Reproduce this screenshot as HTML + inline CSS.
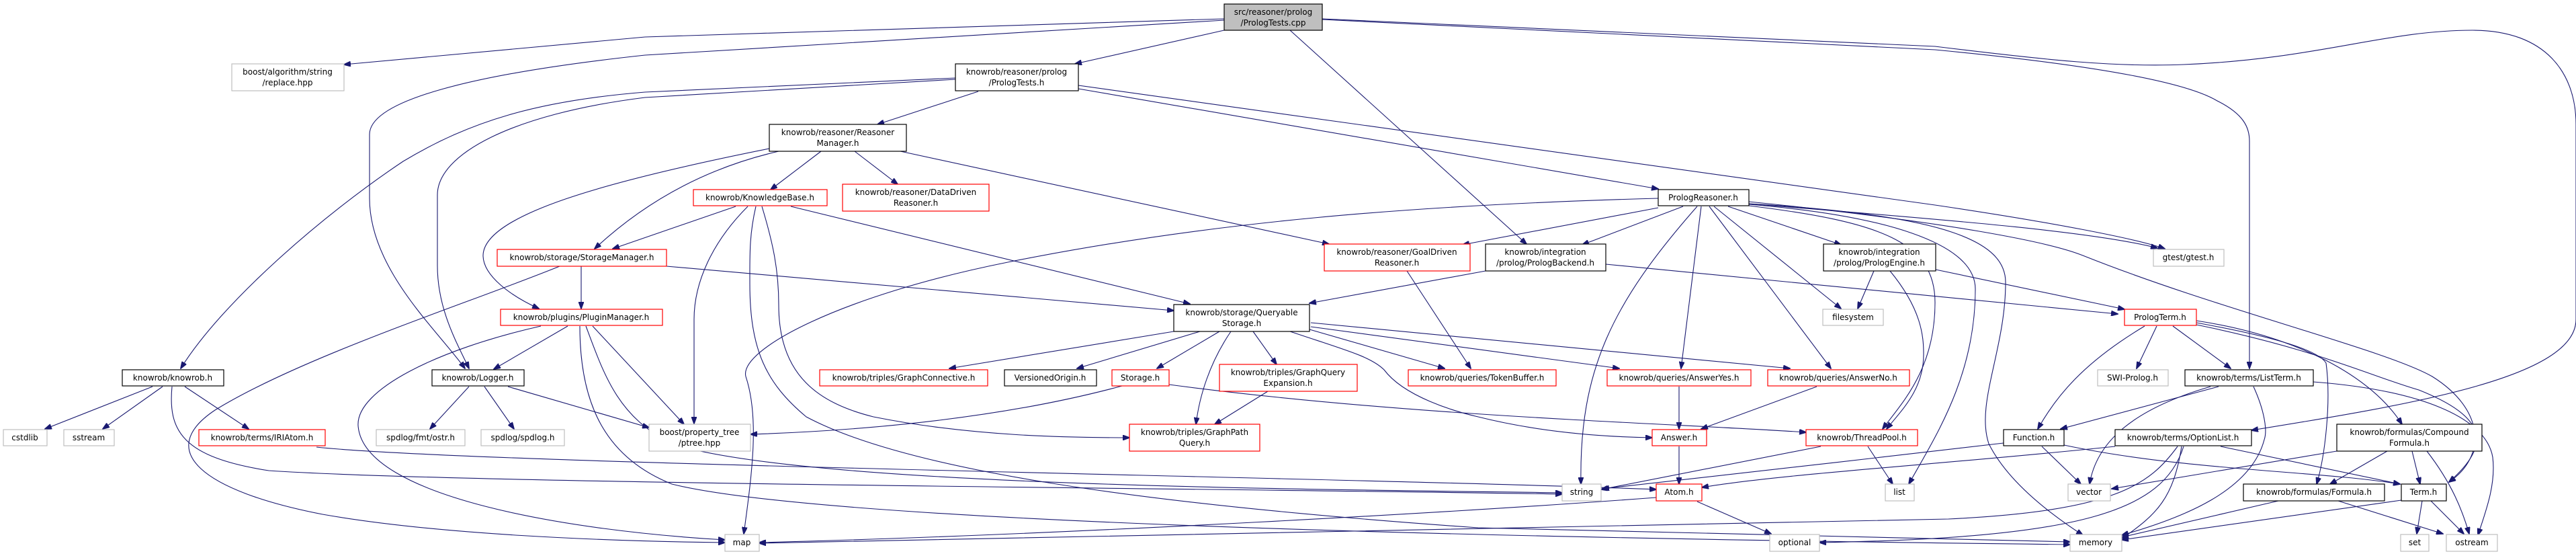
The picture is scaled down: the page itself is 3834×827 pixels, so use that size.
<!DOCTYPE html>
<html><head><meta charset="utf-8"><style>
html,body{margin:0;padding:0;background:#fff;}
svg{display:block;}
text{font-family:"DejaVu Sans","Liberation Sans",sans-serif;font-size:12px;fill:#000;text-anchor:middle;}
.e{fill:none;stroke:#191970;stroke-width:1.1;marker-end:url(#a);}
.b{fill:#fff;stroke:#000;stroke-width:1.2;}
.r{fill:#fff;stroke:#ff0000;stroke-width:1.2;}
.g{fill:#fff;stroke:#bfbfbf;stroke-width:1.2;}
.c{fill:#bfbfbf;stroke:#000;stroke-width:1.2;}
</style></head><body>
<svg width="3834" height="827" viewBox="0 0 3834 827" xmlns="http://www.w3.org/2000/svg">
<defs><marker id="a" markerUnits="userSpaceOnUse" markerWidth="11" markerHeight="8" refX="10" refY="4" orient="auto"><path d="M0,0 L11,4 L0,8 z" fill="#191970" stroke="#191970"/></marker></defs>
<g>
<path class="e" d="M1822,28 L960,55 L512,96"/>
<path class="e" d="M1822,30 L960,82 C700,110 550,150 550,200 L550,295 C550,400 650,490 692,548"/>
<path class="e" d="M1422,116 L960,137 C800,150 700,180 600,240 C480,320 330,450 269,548"/>
<path class="e" d="M1422,118 L960,145 C760,170 651,230 651,290 L651,395 C651,460 680,510 698,548"/>
<path class="e" d="M1822,45 L1600,95"/>
<path class="e" d="M1920,45 L2272,363"/>
<path class="e" d="M1968,29 L2880,74 C3100,95 3250,120 3300,150 C3340,170 3348,190 3348,210 L3348,548"/>
<path class="e" d="M1968,28 L2880,69 C3050,90 3150,100 3250,96 C3450,88 3550,45 3680,45 C3790,45 3834,110 3834,185 L3834,475 C3834,560 3600,600 3351,640"/>
<path class="e" d="M1605,127 L2880,305 C3050,330 3180,355 3222,370"/>
<path class="e" d="M1605,132 L2468,281"/>
<path class="e" d="M1456,136 L1306,185"/>
<path class="e" d="M1222,225 L1147,282"/>
<path class="e" d="M1272,225 L1336,274"/>
<path class="e" d="M1340,225 L1978,363"/>
<path class="e" d="M1159,225 C1050,250 960,300 885,370"/>
<path class="e" d="M1145,221 C900,270 720,320 719,380 C719,410 760,440 802,459"/>
<path class="e" d="M1095,307 L912,370"/>
<path class="e" d="M1113,307 C1060,360 1033,420 1033,475 L1033,630"/>
<path class="e" d="M1125,307 C1115,350 1116,380 1116,422 C1116,520 1140,570 1200,620 C1350,700 1700,750 2200,785 L3081,806"/>
<path class="e" d="M1134,307 C1150,360 1159,400 1159,454 C1159,560 1220,600 1300,620 C1450,650 1600,651 1681,651"/>
<path class="e" d="M1177,307 L1771,452"/>
<path class="e" d="M865,396 L865,459"/>
<path class="e" d="M833,396 C700,450 450,530 320,610 C230,670 300,730 480,765 C650,795 900,805 1079,807"/>
<path class="e" d="M992,396 L1747,462"/>
<path class="e" d="M845,485 L735,549"/>
<path class="e" d="M805,485 C650,520 530,580 533,633 C540,740 850,790 1079,803"/>
<path class="e" d="M882,485 L1018,631"/>
<path class="e" d="M863,485 C863,600 900,680 1000,720 C1200,770 2000,798 3081,810"/>
<path class="e" d="M872,485 C900,560 920,620 1000,660 C1200,725 2000,728 2325,733"/>
<path class="e" d="M698,575 L640,638"/>
<path class="e" d="M721,575 L765,638"/>
<path class="e" d="M756,575 L966,636"/>
<path class="e" d="M227,575 L67,638"/>
<path class="e" d="M242,575 L153,638"/>
<path class="e" d="M275,575 L370,638"/>
<path class="e" d="M256,575 C250,640 270,680 400,700 C700,720 1800,726 2325,735"/>
<path class="e" d="M471,665 C700,690 2000,710 2465,728"/>
<path class="e" d="M2468,309 L2177,364"/>
<path class="e" d="M2505,307 L2355,364"/>
<path class="e" d="M2526,307 C2400,450 2350,550 2353,720"/>
<path class="e" d="M2532,307 L2502,548"/>
<path class="e" d="M2544,307 L2725,548"/>
<path class="e" d="M2551,307 L2740,459"/>
<path class="e" d="M2572,307 L2740,364"/>
<path class="e" d="M2468,295 C2100,305 1800,330 1500,390 C1250,440 1100,520 1110,560 C1130,620 1120,700 1107,794"/>
<path class="e" d="M2603,303 C2800,320 3100,340 3211,369"/>
<path class="e" d="M2603,306 C2800,330 2880,360 2880,450 C2880,550 2830,600 2802,638"/>
<path class="e" d="M2603,304 C2800,320 2940,360 2940,430 C2940,560 2880,650 2841,720"/>
<path class="e" d="M2603,303 C2900,320 2985,360 2985,420 C2985,520 2940,600 2960,660 C2990,720 3060,770 3100,796"/>
<path class="e" d="M2603,300 C2900,330 3050,360 3100,380 C3300,460 3550,520 3620,560 C3700,610 3700,680 3645,717"/>
<path class="e" d="M2211,403 L1949,451"/>
<path class="e" d="M2390,393 L3152,467"/>
<path class="e" d="M2789,403 L2765,459"/>
<path class="e" d="M2813,403 C2860,460 2863,500 2863,527 C2863,580 2830,610 2808,638"/>
<path class="e" d="M2881,401 L3162,460"/>
<path class="e" d="M2094,403 L2189,548"/>
<path class="e" d="M1747,493 L1413,548"/>
<path class="e" d="M1786,493 L1603,548"/>
<path class="e" d="M1815,493 L1722,548"/>
<path class="e" d="M1865,493 L1900,542"/>
<path class="e" d="M1832,493 C1800,540 1785,590 1780,631"/>
<path class="e" d="M1949,490 L2150,548"/>
<path class="e" d="M1951,486 L2410,548"/>
<path class="e" d="M1951,480 L2664,548"/>
<path class="e" d="M1920,493 C2000,520 2040,530 2060,550 C2090,590 2165,612 2200,620 C2300,645 2400,650 2459,651"/>
<path class="e" d="M1670,574 C1500,620 1300,640 1117,646"/>
<path class="e" d="M1740,572 C2100,620 2500,630 2688,643"/>
<path class="e" d="M1887,582 L1808,631"/>
<path class="e" d="M2499,575 L2499,638"/>
<path class="e" d="M2704,575 L2532,638"/>
<path class="e" d="M2499,664 L2499,720"/>
<path class="e" d="M2710,664 L2383,728"/>
<path class="e" d="M2780,664 L2817,720"/>
<path class="e" d="M2465,740 C2200,760 1600,795 1130,807"/>
<path class="e" d="M2526,746 L2636,794"/>
<path class="e" d="M3192,485 C3100,540 3060,590 3033,638"/>
<path class="e" d="M3210,485 L3180,548"/>
<path class="e" d="M3234,485 L3320,548"/>
<path class="e" d="M3269,480 C3380,500 3450,520 3462,540 C3470,600 3460,680 3448,720"/>
<path class="e" d="M3269,477 C3420,500 3530,560 3575,631"/>
<path class="e" d="M3269,483 C3450,520 3530,560 3600,580 C3700,620 3710,660 3645,717"/>
<path class="e" d="M3302,575 L3067,638"/>
<path class="e" d="M3290,575 C3170,610 3120,660 3110,720"/>
<path class="e" d="M3354,575 C3370,610 3375,640 3370,654 C3350,730 3250,770 3158,796"/>
<path class="e" d="M3443,568 C3600,580 3700,620 3710,680 C3715,720 3700,760 3688,796"/>
<path class="e" d="M3039,664 L3097,720"/>
<path class="e" d="M3072,662 C3250,700 3450,700 3572,720"/>
<path class="e" d="M2982,659 C2800,680 2500,715 2385,727"/>
<path class="e" d="M3305,664 L3572,720"/>
<path class="e" d="M3148,664 C2900,690 2650,705 2533,725"/>
<path class="e" d="M3241,664 C3200,720 3150,760 2900,772 C2200,790 1500,800 1130,808"/>
<path class="e" d="M3247,664 C3235,740 3211,765 3158,801"/>
<path class="e" d="M3250,664 C3220,760 3100,800 2708,807"/>
<path class="e" d="M3478,671 L3143,727"/>
<path class="e" d="M3553,671 L3468,720"/>
<path class="e" d="M3590,671 L3602,720"/>
<path class="e" d="M3612,671 C3650,720 3665,760 3675,794"/>
<path class="e" d="M3391,745 L3158,799"/>
<path class="e" d="M3480,745 L3636,794"/>
<path class="e" d="M3605,745 L3597,794"/>
<path class="e" d="M3618,745 L3667,794"/>
<path class="e" d="M3574,744 L3158,803"/>
</g>
<g>
<rect class="c" x="1822" y="6" width="146" height="39"/><text x="1895" y="22">src/reasoner/prolog</text><text x="1895" y="38">/PrologTests.cpp</text>
<rect class="g" x="345" y="95" width="167" height="40"/><text x="428" y="111">boost/algorithm/string</text><text x="428" y="127">/replace.hpp</text>
<rect class="b" x="1422" y="95" width="183" height="40"/><text x="1513" y="111">knowrob/reasoner/prolog</text><text x="1513" y="127">/PrologTests.h</text>
<rect class="b" x="1145" y="185" width="204" height="40"/><text x="1247" y="201">knowrob/reasoner/Reasoner</text><text x="1247" y="217">Manager.h</text>
<rect class="r" x="1032" y="282" width="199" height="24"/><text x="1131" y="298">knowrob/KnowledgeBase.h</text>
<rect class="r" x="1254" y="274" width="218" height="40"/><text x="1363" y="290">knowrob/reasoner/DataDriven</text><text x="1363" y="306">Reasoner.h</text>
<rect class="b" x="2468" y="282" width="135" height="24"/><text x="2535" y="298">PrologReasoner.h</text>
<rect class="r" x="740" y="371" width="252" height="25"/><text x="866" y="387">knowrob/storage/StorageManager.h</text>
<rect class="r" x="1971" y="363" width="217" height="40"/><text x="2079" y="379">knowrob/reasoner/GoalDriven</text><text x="2079" y="395">Reasoner.h</text>
<rect class="b" x="2211" y="363" width="179" height="40"/><text x="2300" y="379">knowrob/integration</text><text x="2300" y="395">/prolog/PrologBackend.h</text>
<rect class="b" x="2714" y="363" width="167" height="40"/><text x="2797" y="379">knowrob/integration</text><text x="2797" y="395">/prolog/PrologEngine.h</text>
<rect class="g" x="3205" y="371" width="105" height="25"/><text x="3257" y="387">gtest/gtest.h</text>
<rect class="r" x="745" y="460" width="241" height="24"/><text x="865" y="476">knowrob/plugins/PluginManager.h</text>
<rect class="b" x="1747" y="453" width="202" height="40"/><text x="1848" y="469">knowrob/storage/Queryable</text><text x="1848" y="485">Storage.h</text>
<rect class="g" x="2713" y="460" width="90" height="24"/><text x="2758" y="476">filesystem</text>
<rect class="r" x="3162" y="460" width="107" height="24"/><text x="3215" y="476">PrologTerm.h</text>
<rect class="b" x="182" y="550" width="151" height="24"/><text x="257" y="566">knowrob/knowrob.h</text>
<rect class="b" x="643" y="550" width="137" height="24"/><text x="711" y="566">knowrob/Logger.h</text>
<rect class="r" x="1220" y="550" width="250" height="24"/><text x="1345" y="566">knowrob/triples/GraphConnective.h</text>
<rect class="b" x="1495" y="550" width="137" height="24"/><text x="1563" y="566">VersionedOrigin.h</text>
<rect class="r" x="1655" y="550" width="85" height="24"/><text x="1697" y="566">Storage.h</text>
<rect class="r" x="1815" y="542" width="205" height="40"/><text x="1917" y="558">knowrob/triples/GraphQuery</text><text x="1917" y="574">Expansion.h</text>
<rect class="r" x="2096" y="550" width="220" height="24"/><text x="2206" y="566">knowrob/queries/TokenBuffer.h</text>
<rect class="r" x="2392" y="550" width="214" height="24"/><text x="2499" y="566">knowrob/queries/AnswerYes.h</text>
<rect class="r" x="2631" y="550" width="211" height="24"/><text x="2736" y="566">knowrob/queries/AnswerNo.h</text>
<rect class="g" x="3122" y="550" width="105" height="24"/><text x="3174" y="566">SWI-Prolog.h</text>
<rect class="b" x="3252" y="550" width="191" height="24"/><text x="3347" y="566">knowrob/terms/ListTerm.h</text>
<rect class="g" x="5" y="639" width="65" height="24"/><text x="37" y="655">cstdlib</text>
<rect class="g" x="95" y="639" width="75" height="24"/><text x="132" y="655">sstream</text>
<rect class="r" x="296" y="639" width="188" height="24"/><text x="390" y="655">knowrob/terms/IRIAtom.h</text>
<rect class="g" x="560" y="639" width="132" height="24"/><text x="626" y="655">spdlog/fmt/ostr.h</text>
<rect class="g" x="716" y="639" width="124" height="24"/><text x="778" y="655">spdlog/spdlog.h</text>
<rect class="g" x="966" y="631" width="151" height="40"/><text x="1041" y="647">boost/property_tree</text><text x="1041" y="663">/ptree.hpp</text>
<rect class="r" x="1681" y="631" width="194" height="40"/><text x="1778" y="647">knowrob/triples/GraphPath</text><text x="1778" y="663">Query.h</text>
<rect class="r" x="2459" y="639" width="81" height="24"/><text x="2499" y="655">Answer.h</text>
<rect class="r" x="2688" y="639" width="166" height="24"/><text x="2771" y="655">knowrob/ThreadPool.h</text>
<rect class="b" x="2982" y="639" width="90" height="24"/><text x="3027" y="655">Function.h</text>
<rect class="b" x="3148" y="639" width="203" height="24"/><text x="3249" y="655">knowrob/terms/OptionList.h</text>
<rect class="b" x="3478" y="631" width="216" height="40"/><text x="3586" y="647">knowrob/formulas/Compound</text><text x="3586" y="663">Formula.h</text>
<rect class="g" x="2325" y="720" width="58" height="25"/><text x="2354" y="736">string</text>
<rect class="r" x="2465" y="720" width="68" height="25"/><text x="2499" y="736">Atom.h</text>
<rect class="g" x="2806" y="720" width="43" height="25"/><text x="2827" y="736">list</text>
<rect class="g" x="3078" y="720" width="63" height="25"/><text x="3109" y="736">vector</text>
<rect class="b" x="3339" y="720" width="210" height="25"/><text x="3444" y="736">knowrob/formulas/Formula.h</text>
<rect class="b" x="3574" y="720" width="67" height="25"/><text x="3607" y="736">Term.h</text>
<rect class="g" x="1079" y="795" width="51" height="25"/><text x="1104" y="811">map</text>
<rect class="g" x="3081" y="795" width="77" height="25"/><text x="3119" y="811">memory</text>
<rect class="g" x="2634" y="795" width="74" height="25"/><text x="2671" y="811">optional</text>
<rect class="g" x="3573" y="795" width="42" height="25"/><text x="3594" y="811">set</text>
<rect class="g" x="3641" y="795" width="76" height="25"/><text x="3679" y="811">ostream</text>
</g>
</svg>
</body></html>
